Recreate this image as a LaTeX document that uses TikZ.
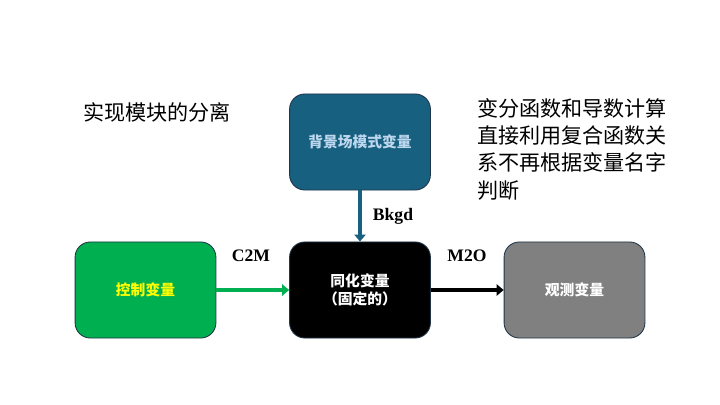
\documentclass[tikz,border=0pt]{standalone}
\usepackage{fontspec}
\setmainfont{Liberation Serif}
\newfontfamily\cjkfont{Noto Sans CJK SC}
\usetikzlibrary{positioning, arrows.meta}
\definecolor{bggreen}{HTML}{00B050}
\definecolor{bgblue}{HTML}{17607F}
\definecolor{bggray}{HTML}{808080}
\definecolor{boxline}{HTML}{1F3447}
\definecolor{lightblue}{HTML}{BDD7EE}
\definecolor{txtyellow}{HTML}{FFFF00}

\begin{document}
\begin{tikzpicture}[x=0.025cm, y=-0.025cm, line width=0.6pt,
    varbox/.style={draw=boxline, rounded corners=0.38cm, minimum width=3.52cm,
                   minimum height=2.4cm, align=center, font=\cjkfont\bfseries\fontsize{10.5}{13}\selectfont},
    flow/.style={line width=2.8pt, -{Triangle[length=5pt, width=8pt]}},
    lbl/.style={font=\bfseries\fontsize{12.5}{14}\selectfont},
    note/.style={font=\cjkfont\fontsize{15}{19.5}\selectfont, align=left}]
    \useasboundingbox (0,0) rectangle (720,405);
    % boxes
    \node[varbox, fill=bggreen, text=txtyellow] (ctrl) at (145.5,290) {控制变量};
    \node[varbox, fill=black, text=white] (assim) at (360,290) {同化变量\\（固定的）};
    \node[varbox, fill=bggray, text=white] (obs) at (574.5,290) {观测变量};
    \node[varbox, fill=bgblue, text=lightblue] (bkgd) at (360,142) {背景场模式变量};
    % connectors
    \draw[flow, bgblue] (bkgd) -- (assim);
    \draw[flow, bggreen] (ctrl) -- (assim);
    \draw[flow, black] (assim) -- (obs);
    \node[lbl] (bkgdlbl) at (393,216) {Bkgd};
    \node[lbl] (c2m) at (251,256) {C2M};
    \node[lbl] (m2o) at (467,256) {M2O};
    % notes
    \node[note, anchor=west] (sep) at (78,112) {实现模块的分离};
    \node[note, anchor=north west] (deriv) at (472,93) {变分函数和导数计算\\直接利用复合函数关\\系不再根据变量名字\\判断};
\end{tikzpicture}
\end{document}
